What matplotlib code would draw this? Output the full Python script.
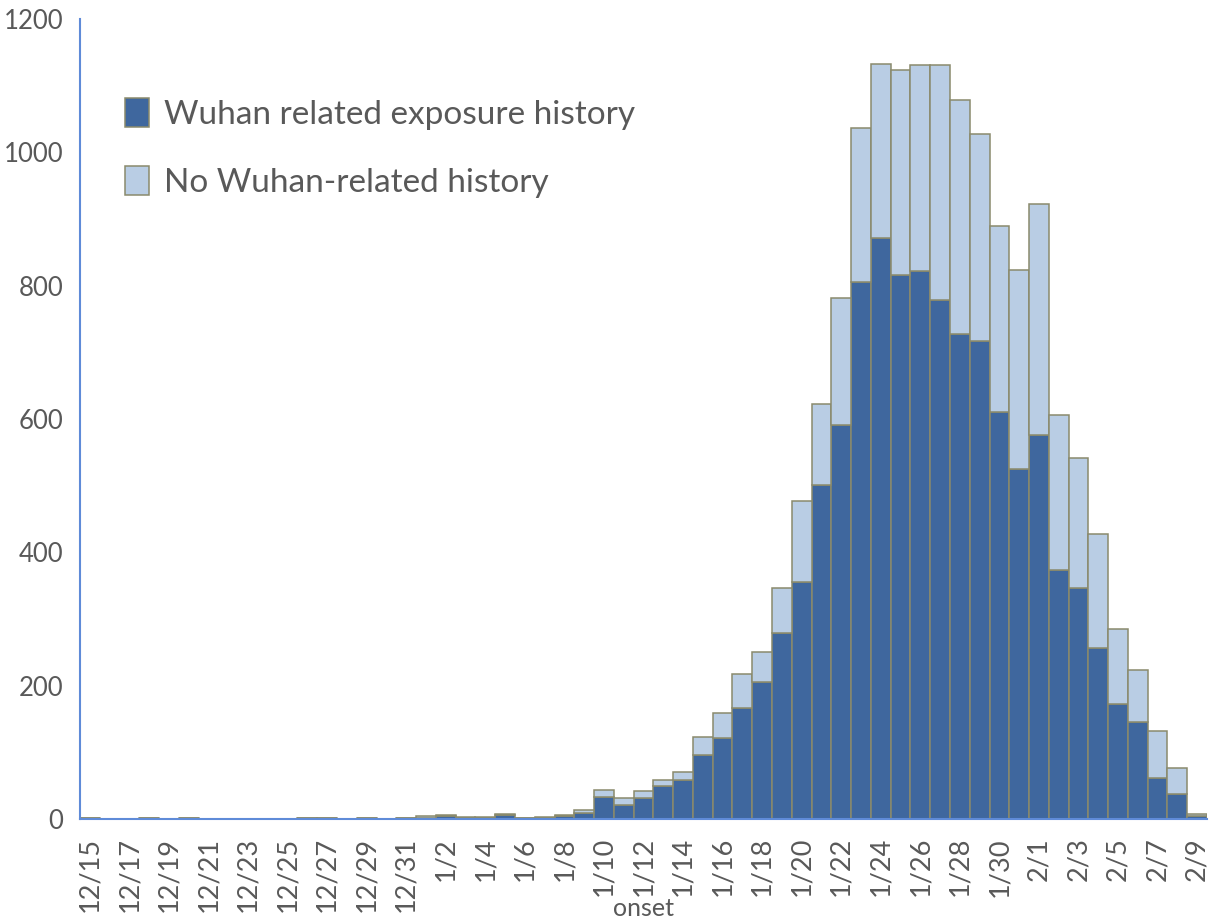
import matplotlib
matplotlib.use("Agg")
import matplotlib.pyplot as plt
import numpy as np

dates = ["12/15", "12/16", "12/17", "12/18", "12/19", "12/20", "12/21", "12/22", "12/23", "12/24",
         "12/25", "12/26", "12/27", "12/28", "12/29", "12/30", "12/31",
         "1/1", "1/2", "1/3", "1/4", "1/5", "1/6", "1/7", "1/8", "1/9", "1/10",
         "1/11", "1/12", "1/13", "1/14", "1/15", "1/16", "1/17", "1/18", "1/19", "1/20",
         "1/21", "1/22", "1/23", "1/24", "1/25", "1/26", "1/27", "1/28", "1/29", "1/30", "1/31",
         "2/1", "2/2", "2/3", "2/4", "2/5", "2/6", "2/7", "2/8", "2/9"]

wuhan = [1, 0, 0, 1, 0, 1, 0, 0, 0, 0,
         0, 1, 1, 0, 1, 0, 1,
         2, 5, 2, 2, 6, 1, 2, 4, 9, 33,
         21, 32, 50, 59, 96, 122, 167, 205, 279, 356,
         501, 591, 805, 872, 816, 822, 778, 728, 717, 611, 525,
         576, 374, 347, 256, 172, 146, 62, 38, 5]

no_wuhan = [0, 0, 0, 0, 0, 0, 0, 0, 0, 0,
            0, 0, 0, 0, 0, 0, 1,
            2, 1, 1, 1, 2, 0, 1, 2, 5, 11,
            11, 10, 9, 12, 27, 37, 51, 45, 68, 121,
            122, 190, 232, 260, 307, 309, 353, 350, 310, 278, 298,
            346, 232, 194, 172, 113, 78, 70, 39, 2]

series_labels = ["Wuhan related exposure history", "No Wuhan-related history"]
y_ticks = [0, 200, 400, 600, 800, 1000, 1200]

plt.rcParams['font.family'] = ['Lato', 'DejaVu Sans']
text_color = "#595959"
dark = "#3F679E"
light = "#B9CDE4"
edge = "#8A8A6C"
axis_blue = "#5F8BD8"

W, H = 1217, 922
fig = plt.figure(figsize=(W / 100, H / 100), dpi=100)
ax = fig.add_axes([80 / W, (H - 819) / H, 1127 / W, 800 / H])

x = np.arange(len(dates))
ax.bar(x, wuhan, width=1.0, color=dark, edgecolor=edge, linewidth=1.1,
       label=series_labels[0], zorder=2)
ax.bar(x, no_wuhan, bottom=wuhan, width=1.0, color=light, edgecolor=edge,
       linewidth=1.1, label=series_labels[1], zorder=2)

ax.set_xlim(-0.5, len(dates) - 0.5)
ax.set_ylim(0, 1200)
ax.set_yticks(y_ticks)
ax.set_yticklabels([str(v) for v in y_ticks], fontsize=18.5, color=text_color)
ax.set_xticks(x[::2])
ax.set_xticklabels(dates[::2], rotation=90, fontsize=19.5, color=text_color)
ax.tick_params(axis='both', length=0)
ax.tick_params(axis='y', pad=12)
ax.tick_params(axis='x', pad=13)
ax.set_xlabel("onset", fontsize=18, color=text_color, labelpad=0)
ax.xaxis.set_label_coords(0.5, -0.098)

for s in ["top", "right"]:
    ax.spines[s].set_visible(False)
for s in ["left", "bottom"]:
    ax.spines[s].set_color(axis_blue)
    ax.spines[s].set_linewidth(1.5)
    ax.spines[s].set_zorder(3)

leg = ax.legend(loc="upper left", bbox_to_anchor=(125 / W, 1 - 98 / H),
                bbox_transform=fig.transFigure, frameon=False, fontsize=24,
                handlelength=0.72, handleheight=0.95, handletextpad=0.45,
                labelspacing=1.1, borderpad=0, borderaxespad=0)
for t in leg.get_texts():
    t.set_color(text_color)

fig.savefig("out.png", dpi=100)
